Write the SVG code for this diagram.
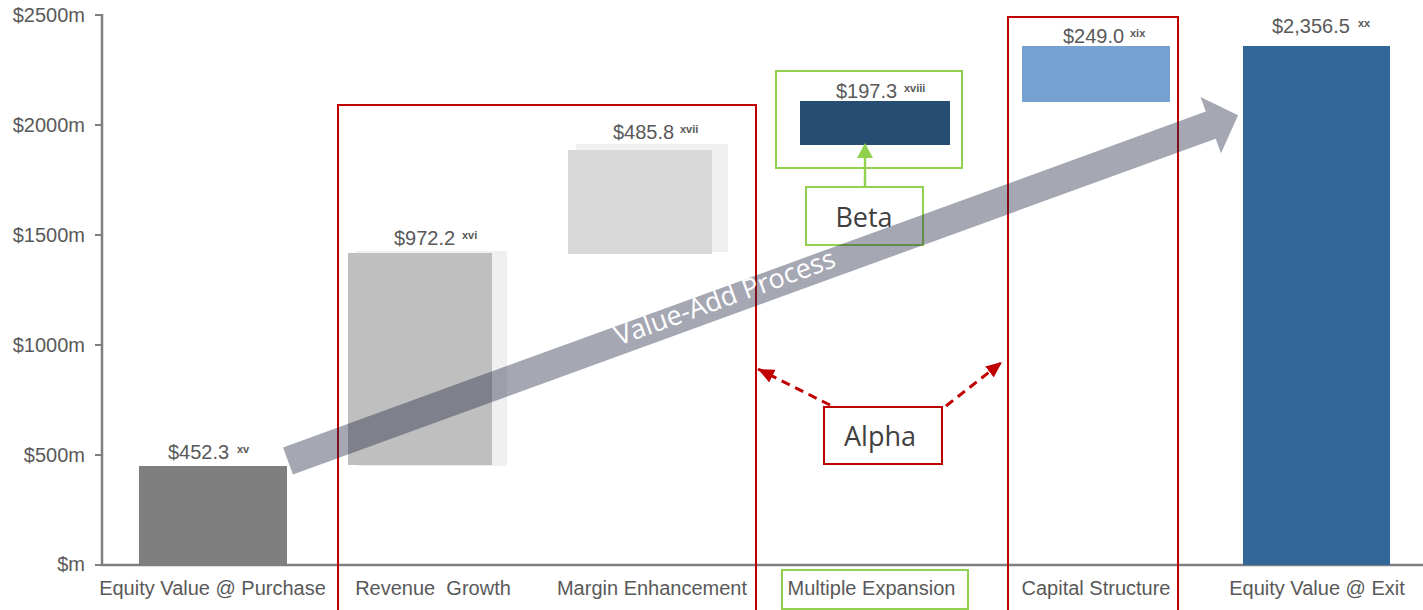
<svg xmlns="http://www.w3.org/2000/svg" width="1423" height="610" viewBox="0 0 1423 610">
<style>
.ax{font-family:"Liberation Sans",Arial,sans-serif;font-size:20px;fill:#595959}
.yl{text-anchor:end}
.cat{text-anchor:middle;white-space:pre}
.sup{font-family:"Liberation Sans",Arial,sans-serif;font-size:11px;font-weight:bold;fill:#595959}
.call{font-family:"Open Sans","Noto Sans",sans-serif;font-size:27px;fill:#404040;text-anchor:middle}
.redbox{fill:none;stroke:#c00000;stroke-width:2}
.grnbox{fill:none;stroke:#92d050;stroke-width:2}
.dash{fill:none;stroke:#c00000;stroke-width:3;stroke-dasharray:9 6}
</style>
<defs>
<marker id="redHead" markerUnits="userSpaceOnUse" markerWidth="18" markerHeight="14" refX="16" refY="7" orient="auto">
<path d="M0,0 L16,7 L0,14 z" fill="#c00000"/>
</marker>
</defs>
<rect width="1423" height="610" fill="#ffffff"/>
<g id="axes">
<line x1="102" y1="14" x2="102" y2="566" stroke="#7f7f7f" stroke-width="2.5"/>
<line x1="101" y1="565" x2="1423" y2="565" stroke="#7f7f7f" stroke-width="2.5"/>
<g stroke="#7f7f7f" stroke-width="2">
<line x1="95" y1="15" x2="102" y2="15"/>
<line x1="95" y1="125" x2="102" y2="125"/>
<line x1="95" y1="235" x2="102" y2="235"/>
<line x1="95" y1="345" x2="102" y2="345"/>
<line x1="95" y1="455" x2="102" y2="455"/>
<line x1="95" y1="565" x2="102" y2="565"/>
</g>
<text class="ax yl" x="85" y="22">$2500m</text>
<text class="ax yl" x="85" y="132">$2000m</text>
<text class="ax yl" x="85" y="242">$1500m</text>
<text class="ax yl" x="85" y="352">$1000m</text>
<text class="ax yl" x="85" y="462">$500m</text>
<text class="ax yl" x="85" y="571">$m</text>
</g>
<g id="bar-purchase">
<rect x="139" y="466" width="148" height="99" fill="#7f7f7f"/>
<text class="ax" x="168" y="459">$452.3</text><text class="sup" x="237" y="453">xv</text>
<text class="ax cat" x="212.5" y="595">Equity Value @ Purchase</text>
</g>
<g id="bar-revenue">
<rect x="356" y="251" width="151" height="215" fill="#f0f0f0"/>
<rect x="348" y="253" width="144" height="212" fill="#bfbfbf"/>
<text class="ax" x="394" y="245">$972.2</text><text class="sup" x="462" y="239">xvi</text>
<text class="ax cat" x="433" y="595">Revenue  Growth</text>
</g>
<g id="bar-margin">
<rect x="576" y="144" width="152" height="108" fill="#f0f0f0"/>
<rect x="568" y="150" width="144" height="104" fill="#d9d9d9"/>
<text class="ax" x="613" y="139">$485.8</text><text class="sup" x="680" y="133">xvii</text>
<text class="ax cat" x="652" y="595">Margin Enhancement</text>
</g>
<g id="bar-multiple">
<rect x="800" y="101" width="150" height="44" fill="#264d72"/>
<text class="ax" x="836" y="98">$197.3</text><text class="sup" x="904" y="92">xviii</text>
<rect class="grnbox" x="776" y="71" width="186" height="97"/>
<rect class="grnbox" x="782" y="570" width="186" height="39"/>
<text class="ax cat" x="871.5" y="595">Multiple Expansion</text>
</g>
<g id="bar-capital">
<rect x="1022" y="46" width="148" height="56" fill="#75a2d1"/>
<text class="ax" x="1063" y="43">$249.0</text><text class="sup" x="1130" y="37">xix</text>
<text class="ax cat" x="1096" y="595">Capital Structure</text>
</g>
<g id="bar-exit">
<rect x="1243" y="46" width="147" height="519" fill="#336699"/>
<text class="ax" x="1272" y="33">$2,356.5</text><text class="sup" x="1358" y="27">xx</text>
<text class="ax cat" x="1317" y="595">Equity Value @ Exit</text>
</g>
<g id="alpha-group-1">
<rect class="redbox" x="338" y="105" width="418" height="520"/>
</g>
<g id="alpha-group-2">
<rect class="redbox" x="1008" y="17" width="170" height="610"/>
</g>
<g id="beta">
<rect class="grnbox" x="806" y="187" width="117" height="58"/>
<text class="call" x="864" y="227">Beta</text>
</g>
<g id="alpha">
<rect class="redbox" x="824" y="407" width="118" height="57"/>
<text class="call" x="880" y="446">Alpha</text>
</g>
<g id="connectors">
<line x1="865" y1="187" x2="865" y2="157" stroke="#92d050" stroke-width="2.5"/>
<path d="M857,158 L873,158 L865,143 z" fill="#92d050"/>
<line class="dash" x1="830" y1="405" x2="758" y2="369" marker-end="url(#redHead)"/>
<line class="dash" x1="946" y1="406" x2="1002" y2="362" marker-end="url(#redHead)"/>
</g>
<g id="value-add-arrow">
<path transform="translate(288,461) rotate(-20)" d="M0,-14.4 L982,-14.4 L982,-30 L1011,0 L982,30 L982,14.4 L0,14.4 z" fill="#1f2340" fill-opacity="0.4"/>
<text transform="translate(728,306) rotate(-20)" text-anchor="middle" font-family="'Open Sans','Noto Sans',sans-serif" font-size="27" fill="#ffffff">Value-Add Process</text>
</g>
</svg>
